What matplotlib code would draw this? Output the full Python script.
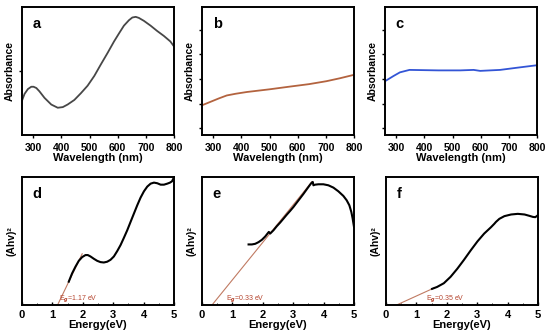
import matplotlib
matplotlib.use("Agg")
from matplotlib import pyplot as plt
from matplotlib.ticker import MultipleLocator

plt.rcParams["font.family"] = ["Liberation Sans", "DejaVu Sans"]
plt.rcParams["font.weight"] = "bold"

# top row: absorbance spectra (wavelength, nm)
wl_a = [260, 269, 281, 293, 301, 311, 322, 340, 364, 387, 405, 422, 446, 469, 493, 517, 540,
        564, 587, 605, 622, 640, 652, 664, 675, 693, 717, 740, 764, 787, 800]
abs_a = [0.269, 0.321, 0.359, 0.377, 0.377, 0.367, 0.341, 0.290, 0.238, 0.213, 0.218, 0.238,
         0.274, 0.326, 0.385, 0.462, 0.551, 0.641, 0.731, 0.795, 0.854, 0.897, 0.918, 0.923,
         0.915, 0.892, 0.854, 0.813, 0.774, 0.731, 0.692]

wl_b = [260, 290, 320, 348, 380, 419, 500, 572, 640, 702, 750, 800]
abs_b = [0.93, 1.07, 1.21, 1.33, 1.40, 1.47, 1.58, 1.69, 1.79, 1.91, 2.03, 2.17]

wl_c = [260, 290, 313, 347, 450, 527, 575, 598, 669, 730, 800]
abs_c = [1.91, 2.12, 2.27, 2.37, 2.35, 2.35, 2.37, 2.33, 2.37, 2.46, 2.56]

# bottom row: Tauc plots (energy, eV)
en_d = [1.538, 1.648, 1.758, 1.868, 1.978, 2.088, 2.165, 2.253, 2.363, 2.473, 2.582, 2.692,
        2.802, 2.912, 3.022, 3.132, 3.242, 3.352, 3.462, 3.571, 3.681, 3.791, 3.901, 4.011,
        4.121, 4.231, 4.341, 4.451, 4.560, 4.670, 4.780, 4.868, 4.934, 4.978]
tauc_d = [0.182, 0.247, 0.299, 0.345, 0.374, 0.390, 0.390, 0.379, 0.361, 0.345, 0.335, 0.332,
          0.338, 0.353, 0.379, 0.421, 0.468, 0.525, 0.584, 0.649, 0.714, 0.779, 0.839, 0.888,
          0.925, 0.948, 0.956, 0.951, 0.940, 0.940, 0.948, 0.956, 0.966, 0.987]

en_e = [1.532, 1.641, 1.751, 1.860, 1.969, 2.079, 2.155, 2.199, 2.243, 2.352, 2.462, 2.571,
        2.681, 2.790, 2.899, 3.009, 3.118, 3.228, 3.337, 3.446, 3.556, 3.611, 3.643, 3.665,
        3.720, 3.829, 3.993, 4.158, 4.322, 4.486, 4.650, 4.759, 4.847, 4.912, 4.956, 5.0]
tauc_e = [0.473, 0.473, 0.478, 0.491, 0.509, 0.535, 0.558, 0.571, 0.558, 0.584, 0.616, 0.644,
          0.675, 0.706, 0.735, 0.766, 0.800, 0.834, 0.868, 0.904, 0.940, 0.956, 0.961, 0.935,
          0.940, 0.943, 0.943, 0.935, 0.917, 0.888, 0.852, 0.818, 0.779, 0.727, 0.675, 0.610]

en_f = [1.515, 1.681, 1.903, 2.124, 2.345, 2.566, 2.788, 3.009, 3.230, 3.451, 3.562, 3.617,
        3.728, 3.894, 4.115, 4.336, 4.558, 4.723, 4.834, 4.912, 5.0]
tauc_f = [0.126, 0.141, 0.170, 0.220, 0.283, 0.353, 0.427, 0.497, 0.558, 0.607, 0.634, 0.649,
          0.673, 0.694, 0.707, 0.712, 0.707, 0.696, 0.688, 0.686, 0.702]

# tangent lines (x from, x to, y from, y to) and band gaps
fit_d = ([1.17, 1.98], [0.0, 0.40])
fit_e = ([0.33, 3.61], [0.0, 0.961])
fit_f = ([0.35, 1.60], [0.0, 0.135])
gaps = ["1.17", "0.33", "0.35"]

fig = plt.figure(figsize=(5.5, 3.35), dpi=100)

lefts = [22 / 550, 202 / 550, 385 / 550]
w = 152 / 550
h = 128 / 335
top_axes = [fig.add_axes([l, 0.597, w, h]) for l in lefts]
bot_axes = [fig.add_axes([l, 0.0896, w, h]) for l in [22 / 550, 202 / 550, 386 / 550]]

for ax in top_axes + bot_axes:
    for s in ax.spines.values():
        s.set_linewidth(1.4)
    ax.tick_params(labelsize=7.5, width=1, length=2)

top_data = [(wl_a, abs_a, "#474747", "a"), (wl_b, abs_b, "#b3633f", "b"), (wl_c, abs_c, "#3355d6", "c")]
for ax, (x, y, col, lab) in zip(top_axes, top_data):
    ax.plot(x, y, color=col, lw=1.3)
    ax.set_xlim(260, 800)
    ax.set_xticks([300, 400, 500, 600, 700, 800])
    ax.set_xlabel("Wavelength (nm)", fontsize=8, fontweight="bold", labelpad=0)
    ax.set_ylabel("Absorbance", fontsize=7.5, fontweight="bold", labelpad=0)
    ax.text(0.07, 0.92, lab, transform=ax.transAxes, fontsize=10.5, fontweight="bold", va="top")

top_axes[0].set_ylim(0, 1)
top_axes[0].set_yticks([0.5])
top_axes[0].set_yticklabels([])
for ax in top_axes[1:]:
    ax.set_ylim(-0.28, 4.93)
    ax.set_yticks([0, 1, 2, 3, 4])
    ax.set_yticklabels([])

bot_data = [(en_d, tauc_d, fit_d, "d"), (en_e, tauc_e, fit_e, "e"), (en_f, tauc_f, fit_f, "f")]
label_x = [1.22, 0.78, 1.30]
for ax, (x, y, fit, lab), eg, lx in zip(bot_axes, bot_data, gaps, label_x):
    ax.plot(fit[0], fit[1], color="#c07a62", lw=0.8)
    ax.plot(x, y, color="black", lw=1.5)
    ax.set_xlim(0, 5)
    ax.set_ylim(0, 1)
    ax.set_xticks([0, 1, 2, 3, 4, 5])
    ax.xaxis.set_minor_locator(MultipleLocator(0.5))
    ax.tick_params(axis="x", which="both", direction="in")
    ax.tick_params(axis="x", which="minor", length=1.5)
    ax.tick_params(axis="x", labelsize=8)
    ax.set_yticks([])
    ax.set_xlabel("Energy(eV)", fontsize=8, fontweight="bold", labelpad=0)
    ax.set_ylabel("(Ahv)²", fontsize=7.5, fontweight="bold", labelpad=4)
    ax.text(lx, 0.035, "E$_g$=" + eg + " eV", color="#b5452f", fontsize=5, fontweight="normal")
    ax.text(0.07, 0.92, lab, transform=ax.transAxes, fontsize=10.5, fontweight="bold", va="top")

fig.savefig("out.png", dpi=100)
